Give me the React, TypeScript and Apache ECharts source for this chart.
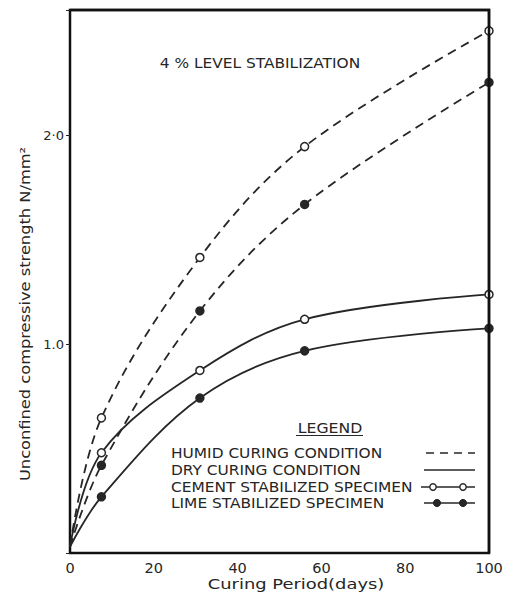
import React, { useEffect, useRef } from "react";
import * as echarts from "echarts";

const days = [0, 7.5, 31, 56, 100];
const cementHumid = [0.03, 0.647, 1.415, 1.946, 2.5];
const limeHumid = [0.03, 0.42, 1.159, 1.669, 2.253];
const cementDry = [0.03, 0.48, 0.874, 1.119, 1.238];
const limeDry = [0.03, 0.269, 0.742, 0.968, 1.076];
const xTicks = [0, 20, 40, 60, 80, 100];
const yTickLabels: Record<number, string> = { 1: "1.0", 2: "2·0" };
const legendItems = [
  "HUMID CURING CONDITION",
  "DRY CURING CONDITION",
  "CEMENT STABILIZED SPECIMEN",
  "LIME STABILIZED SPECIMEN",
];

const INK = "#262626";
const FRAME = "#111111";
const FONT = "DejaVu Sans";

function makeSeries(name: string, vals: number[], dashed: boolean, filled: boolean) {
  return {
    name,
    type: "line",
    smooth: 0.35,
    symbol: "circle",
    symbolSize: 8,
    lineStyle: { color: INK, width: 1.8, type: dashed ? [9, 6] : "solid" },
    itemStyle: { color: filled ? INK : "#ffffff", borderColor: INK, borderWidth: 1.5 },
    data: days.map((d, i) =>
      i === 0 ? { value: [d, vals[i]], symbol: "none" } : { value: [d, vals[i]] }
    ),
    z: 3,
  };
}

export default function App() {
  const ref = useRef<HTMLDivElement>(null);
  useEffect(() => {
    if (!ref.current) return;
    const chart = echarts.init(ref.current, undefined, { renderer: "svg" });
    const lx1 = 424;
    const lx2 = 475;
    const rows = [453, 470, 487, 503];
    const graphic: any[] = [
      {
        type: "text",
        x: 260,
        y: 63,
        scaleX: 1.1,
        style: {
          text: "4 % LEVEL STABILIZATION",
          font: `14px ${FONT}`,
          fill: INK,
          align: "center",
          verticalAlign: "middle",
        },
      },
      {
        type: "text",
        x: 25,
        y: 314,
        rotation: Math.PI / 2,
        scaleX: 1.16,
        style: {
          text: "Unconfined compressive strength N/mm²",
          font: `14px ${FONT}`,
          fill: INK,
          align: "center",
          verticalAlign: "middle",
        },
      },
      {
        type: "text",
        x: 296,
        y: 584,
        scaleX: 1.28,
        style: {
          text: "Curing Period(days)",
          font: `14px ${FONT}`,
          fill: INK,
          align: "center",
          verticalAlign: "middle",
        },
      },
      {
        type: "text",
        x: 330,
        y: 428,
        scaleX: 1.12,
        style: {
          text: "LEGEND",
          font: `14px ${FONT}`,
          fill: INK,
          align: "center",
          verticalAlign: "middle",
        },
      },
      {
        type: "line",
        shape: { x1: 296, y1: 435.5, x2: 363, y2: 435.5 },
        style: { stroke: INK, lineWidth: 1.2 },
      },
    ];
    legendItems.forEach((t, i) => {
      graphic.push({
        type: "text",
        x: 171,
        y: rows[i],
        scaleX: 1.1,
        style: {
          text: t,
          font: `14px ${FONT}`,
          fill: INK,
          align: "left",
          verticalAlign: "middle",
        },
      });
    });
    graphic.push({
      type: "line",
      shape: { x1: lx1 + 2, y1: rows[0], x2: lx2, y2: rows[0] },
      style: { stroke: INK, lineWidth: 1.5, lineDash: [8, 6] },
    });
    graphic.push({
      type: "line",
      shape: { x1: lx1, y1: rows[1], x2: lx2, y2: rows[1] },
      style: { stroke: INK, lineWidth: 1.5 },
    });
    graphic.push({
      type: "line",
      shape: { x1: 421, y1: rows[2], x2: lx2, y2: rows[2] },
      style: { stroke: INK, lineWidth: 1.5 },
    });
    [433, 463].forEach((cx) =>
      graphic.push({
        type: "circle",
        shape: { cx, cy: rows[2], r: 3.2 },
        style: { fill: "#fff", stroke: INK, lineWidth: 1.4 },
      })
    );
    graphic.push({
      type: "line",
      shape: { x1: lx1, y1: rows[3], x2: lx2, y2: rows[3] },
      style: { stroke: INK, lineWidth: 1.5 },
    });
    [437, 463].forEach((cx) =>
      graphic.push({
        type: "circle",
        shape: { cx, cy: rows[3], r: 3.6 },
        style: { fill: INK, stroke: INK, lineWidth: 1 },
      })
    );
    graphic.push({
      type: "polyline",
      z: 100,
      shape: {
        points: [
          [70, 10],
          [489, 10],
          [489, 553],
        ],
      },
      style: { fill: null, stroke: FRAME, lineWidth: 2.5 },
    });

    chart.setOption({
      animation: false,
      backgroundColor: "#ffffff",
      grid: {
        left: 70,
        right: 19,
        top: 10,
        bottom: 41,
        show: true,
        borderColor: FRAME,
        borderWidth: 2.5,
      },
      xAxis: {
        type: "value",
        min: 0,
        max: 100,
        interval: 20,
        axisLine: { show: true, onZero: false, lineStyle: { color: FRAME, width: 2 } },
        axisTick: { show: false },
        splitLine: { show: false },
        axisLabel: {
          color: INK,
          fontFamily: FONT,
          fontSize: 14.5,
          margin: 7,
          formatter: (v: number) => (xTicks.includes(v) ? String(v) : ""),
        },
      },
      yAxis: {
        type: "value",
        min: 0,
        max: 2.6,
        interval: 1,
        axisLine: { show: true, onZero: false, lineStyle: { color: FRAME, width: 2 } },
        axisTick: { show: true, length: 4, lineStyle: { color: INK } },
        splitLine: { show: false },
        axisLabel: {
          color: INK,
          fontFamily: FONT,
          fontSize: 13,
          margin: 6,
          formatter: (v: number) => yTickLabels[v] ?? "",
        },
      },
      graphic,
      series: [
        makeSeries("Cement humid", cementHumid, true, false),
        makeSeries("Lime humid", limeHumid, true, true),
        makeSeries("Cement dry", cementDry, false, false),
        makeSeries("Lime dry", limeDry, false, true),
      ],
    });
    return () => chart.dispose();
  }, []);
  return (
    <div
      ref={ref}
      style={{ position: "fixed", left: 0, top: 0, width: 508, height: 594, background: "#fff" }}
    />
  );
}
